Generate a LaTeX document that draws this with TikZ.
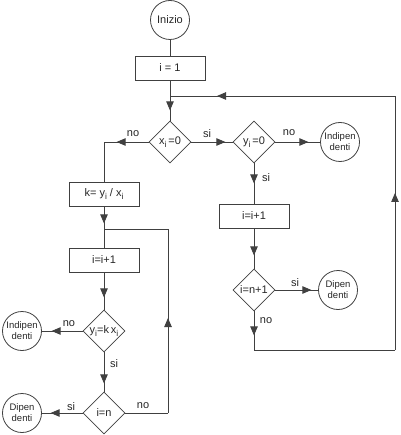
\documentclass[tikz,border=0pt]{standalone}
\usepackage{fontspec}
\setmainfont{Liberation Sans}
\usetikzlibrary{shapes.geometric,arrows.meta,decorations.markings}
\newcommand{\lowi}{\raisebox{-0.45ex}{\fontsize{8.5}{8.5}\selectfont i}}
\begin{document}
\begin{tikzpicture}
[
    x=1pt, y=-1pt,
    color=black!75, line width=0.8pt,
    every node/.style={font=\fontsize{11}{13}\selectfont, text=black!85},
    startend/.style={draw, circle, minimum size=39pt, inner sep=0pt, align=center,
        font=\fontsize{9.5}{11}\selectfont},
    procbox/.style={draw, rectangle, minimum width=70pt, minimum height=24pt, inner sep=0pt},
    decision/.style={draw, diamond, aspect=1, minimum width=42pt, minimum height=42pt, inner sep=0pt},
    lbl/.style={inner sep=1pt},
    arrowat/.style={postaction={decorate},
        decoration={markings, mark=at position #1 with {\arrow{Triangle[length=9pt,width=7.5pt]}}}}
]
    \useasboundingbox (0,0) rectangle (400,435);

    % main column
    \node [startend, font=\fontsize{11}{13}\selectfont] (start) at (170,20) {Inizio};
    \node [procbox] (init) at (170,68) {i = 1};
    \coordinate (jtop) at (170,96);
    \node [decision] (dx) at (170,142) {x\lowi\,=0};

    % right branch
    \node [decision] (dy) at (254,142) {y\lowi\,=0};
    \node [startend] (ind1) at (340,142) {Indipen\\denti};
    \node [procbox] (inc1) at (254,216) {i=i+1};
    \node [decision] (dn1) at (254,290) {i=n+1};
    \node [startend] (dip1) at (338,290) {Dipen\\denti};
    \coordinate (br) at (254,350);
    \coordinate (brr) at (395,350);
    \coordinate (trr) at (395,96);

    % left branch
    \coordinate (cl) at (104,142);
    \node [procbox] (k) at (104,194) {k= y\lowi\ / x\lowi};
    \coordinate (jk) at (104,229);
    \node [procbox] (inc2) at (104,260) {i=i+1};
    \node [decision] (dk) at (104,331) {\makebox[0pt]{y\lowi=k\,x\lowi}};
    \node [startend] (ind2) at (22,331) {Indipen\\denti};
    \node [decision] (dn2) at (104,413) {i=n};
    \node [startend] (dip2) at (22,413) {Dipen\\denti};
    \coordinate (bl) at (168,413);
    \coordinate (tl) at (168,229);

    % labels
    \node [lbl] (lno1) at (133,134) {no};
    \node [lbl] (lsi1) at (207,134) {si};
    \node [lbl] (lno2) at (289,133) {no};
    \node [lbl] (lsi2) at (266,178) {si};
    \node [lbl] (lsi3) at (295,283) {si};
    \node [lbl] (lno3) at (266,321) {no};
    \node [lbl] (lno4) at (69,324) {no};
    \node [lbl] (lsi4) at (114,364) {si};
    \node [lbl] (lsi5) at (71,407) {si};
    \node [lbl] (lno5) at (143,406) {no};

    % connectors
    \draw (start) -- (init);
    \draw [arrowat=30pt] (init.south) -- (dx.north);
    \draw [arrowat=34pt] (dx.east) -- (dy.west);
    \draw [arrowat=33pt] (dy.east) -- (ind1.west);
    \draw [arrowat=20pt] (dy.south) -- (inc1.north);
    \draw [arrowat=27pt] (inc1.south) -- (dn1.north);
    \draw [arrowat=36pt] (dn1.east) -- (dip1.west);
    \draw [arrowat=24pt] (dn1.south) -- (br) -- (brr);
    \draw [arrowat=157pt] (brr) -- (trr);
    \draw [arrowat=178pt] (trr) -- (jtop);

    \draw [arrowat=32pt] (dx.west) -- (cl) -- (k.north);
    \draw [arrowat=17pt] (k.south) -- (inc2.north);
    \draw [arrowat=25pt] (inc2.south) -- (dk.north);
    \draw [arrowat=31pt] (dk.west) -- (ind2.east);
    \draw [arrowat=31pt] (dk.south) -- (dn2.north);
    \draw [arrowat=32pt] (dn2.west) -- (dip2.east);
    \draw (dn2.east) -- (bl);
    \draw [arrowat=95pt] (bl) -- (tl) -- (jk);
\end{tikzpicture}
\end{document}
